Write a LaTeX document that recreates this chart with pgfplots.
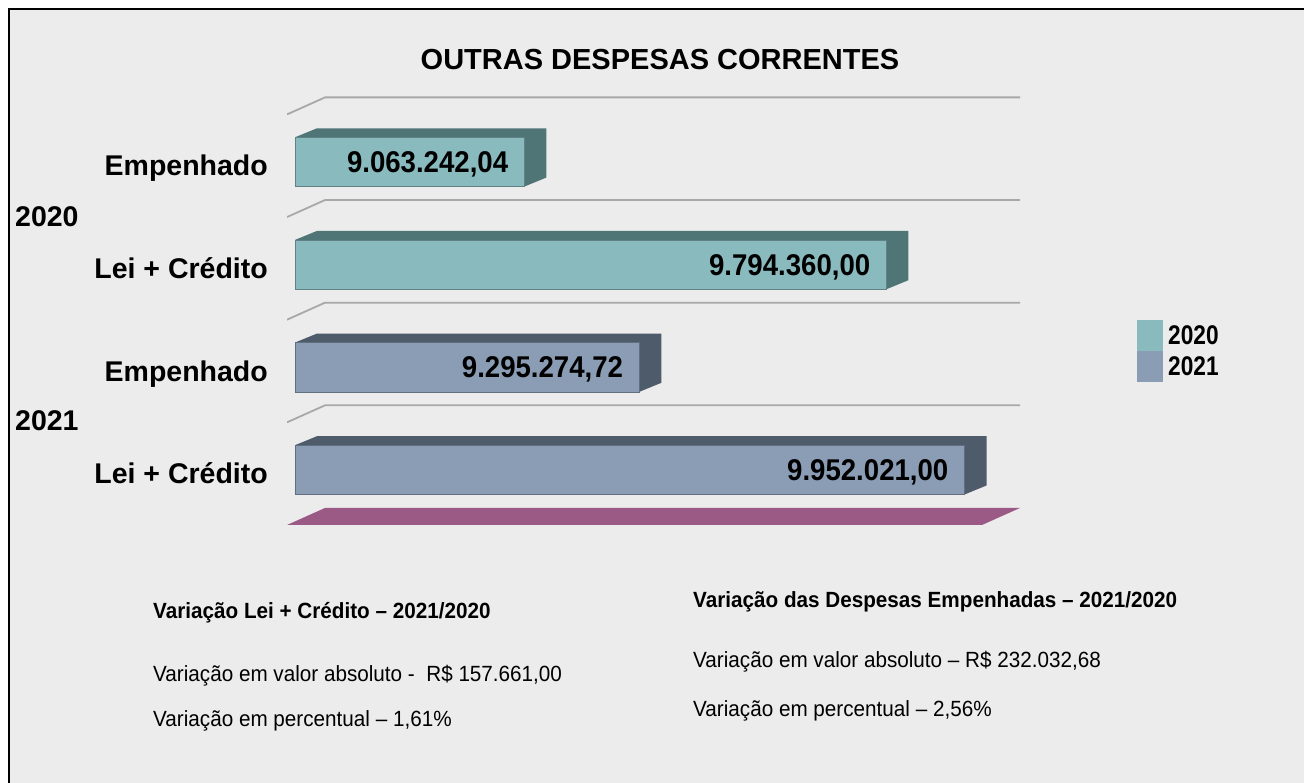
\documentclass[border=0pt]{standalone}
\usepackage{fontspec}
\setmainfont{Liberation Sans}
\newfontfamily\narrowfont[FakeStretch=0.84]{Liberation Sans}
\newfontfamily\valuefont[FakeStretch=0.92]{Liberation Sans}
\newfontfamily\bottomfont[FakeStretch=0.94]{Liberation Sans}
\usepackage{pgfplots}
\pgfplotsset{compat=1.18}

\definecolor{bgcol}{RGB}{236,236,236}
\definecolor{gridcol}{RGB}{168,168,168}
\definecolor{floorcol}{RGB}{155,89,134}
\definecolor{front20}{RGB}{137,186,190}
\definecolor{dark20}{RGB}{80,117,119}
\definecolor{front21}{RGB}{138,157,180}
\definecolor{dark21}{RGB}{78,91,106}

\begin{document}
\begin{tikzpicture}
\path[use as bounding box] (0,0) rectangle (1304pt,783pt);
\fill[white] (0,0) rectangle (1304pt,783pt);
\fill[bgcol] (9pt,0) rectangle (1304pt,774pt);
\draw[black, line width=2.5pt] (9pt,0) -- (9pt,774pt) -- (1304pt,774pt);

\begin{axis}[
    at={(287pt,258pt)}, anchor=south west,
    scale only axis, width=733pt, height=428pt,
    xmin=8584000, xmax=10064000,
    ymin=-0.5, ymax=3.67,
    axis line style={draw=none},
    major tick length=0pt,
    xtick=\empty,
    ytick={0,1,2,3},
    yticklabels={Lei + Crédito, Empenhado, Lei + Crédito, Empenhado},
    yticklabel style={font=\bfseries\fontsize{28.5pt}{30pt}\selectfont,
        anchor=base east, inner sep=0pt, xshift=-19pt, yshift=-10pt},
    legend image code/.code={\fill (0pt,-15.5pt) rectangle (26pt,15.5pt);},
    legend style={at={(1.1596,0.479)}, anchor=north west,
        draw=none, fill=none, inner sep=0pt,
        nodes={inner sep=0pt},
        /tikz/row sep=0pt, /tikz/column sep=5pt,
        font=\narrowfont\bfseries\fontsize{27pt}{28pt}\selectfont},
    legend cell align=left,
]
% back gridlines with the left wall segment
\addplot[gridcol, line width=1.8pt, forget plot] coordinates {(8584000,3.5) (8660726,3.666) (10064000,3.666)};
\addplot[gridcol, line width=1.8pt, forget plot] coordinates {(8584000,2.5) (8660726,2.666) (10064000,2.666)};
\addplot[gridcol, line width=1.8pt, forget plot] coordinates {(8584000,1.5) (8660726,1.666) (10064000,1.666)};
\addplot[gridcol, line width=1.8pt, forget plot] coordinates {(8584000,0.5) (8660726,0.666) (10064000,0.666)};
% floor
\addplot[fill=floorcol, draw=none, forget plot] coordinates {(8584000,-0.5) (9987289,-0.5) (10064000,-0.334) (8660726,-0.334)} -- cycle;

% 2020 Empenhado 9.063.242,04
\addplot[fill=dark20, draw=none, forget plot] coordinates {(8600000,3.277) (8644420,3.365) (9107662.04,3.365) (9107662.04,2.885) (9063242.04,2.797) (9063242.04,3.277)} -- cycle;
\addplot[fill=front20, draw=front20!70!black, line width=0.6pt, forget plot] coordinates {(8600000,2.797) (9063242.04,2.797) (9063242.04,3.277) (8600000,3.277)} -- cycle;
% 2020 Lei + Credito 9.794.360,00
\addplot[fill=dark20, draw=none, forget plot] coordinates {(8600000,2.277) (8644420,2.365) (9838780,2.365) (9838780,1.885) (9794360,1.797) (9794360,2.277)} -- cycle;
\addplot[fill=front20, draw=front20!70!black, line width=0.6pt, forget plot] coordinates {(8600000,1.797) (9794360,1.797) (9794360,2.277) (8600000,2.277)} -- cycle;
% 2021 Empenhado 9.295.274,72
\addplot[fill=dark21, draw=none, forget plot] coordinates {(8600000,1.277) (8644420,1.365) (9339694.72,1.365) (9339694.72,0.885) (9295274.72,0.797) (9295274.72,1.277)} -- cycle;
\addplot[fill=front21, draw=front21!70!black, line width=0.6pt, forget plot] coordinates {(8600000,0.797) (9295274.72,0.797) (9295274.72,1.277) (8600000,1.277)} -- cycle;
% 2021 Lei + Credito 9.952.021,00
\addplot[fill=dark21, draw=none, forget plot] coordinates {(8600000,0.277) (8644420,0.365) (9996441,0.365) (9996441,-0.115) (9952021,-0.203) (9952021,0.277)} -- cycle;
\addplot[fill=front21, draw=front21!70!black, line width=0.6pt, forget plot] coordinates {(8600000,-0.203) (9952021,-0.203) (9952021,0.277) (8600000,0.277)} -- cycle;

% value labels
\addplot[draw=none, forget plot, nodes near coords, point meta=explicit symbolic,
    nodes near coords style={anchor=base east, inner sep=0pt, xshift=-16pt, yshift=-10.5pt,
        text=black, font=\valuefont\bfseries\fontsize{30pt}{32pt}\selectfont}]
    coordinates {(9063242.04,3.037) [9.063.242,04] (9794360,2.037) [9.794.360,00]
                 (9295274.72,1.037) [9.295.274,72] (9952021,0.037) [9.952.021,00]};

\addlegendimage{fill=front20, draw=none}
\addlegendentry{2020}
\addlegendimage{fill=front21, draw=none}
\addlegendentry{2021}
\end{axis}

\node[anchor=base, font=\bfseries\fontsize{29pt}{30pt}\selectfont] at (660pt,713pt) {OUTRAS DESPESAS CORRENTES};
\node[anchor=base west, inner sep=0pt, font=\bfseries\fontsize{28.5pt}{30pt}\selectfont] at (15pt,556pt) {2020};
\node[anchor=base west, inner sep=0pt, font=\bfseries\fontsize{28.5pt}{30pt}\selectfont] at (15pt,352pt) {2021};

\node[anchor=base west, inner sep=0pt, font=\bottomfont\bfseries\fontsize{22pt}{24pt}\selectfont] at (153pt,164pt) {Variação Lei + Crédito – 2021/2020};
\node[anchor=base west, inner sep=0pt, font=\bottomfont\fontsize{22pt}{24pt}\selectfont] at (153pt,101pt) {Variação em valor absoluto -\ \ R\$ 157.661,00};
\node[anchor=base west, inner sep=0pt, font=\bottomfont\fontsize{22pt}{24pt}\selectfont] at (153pt,56pt) {Variação em percentual – 1,61\%};

\node[anchor=base west, inner sep=0pt, font=\bottomfont\bfseries\fontsize{22pt}{24pt}\selectfont] at (693pt,175pt) {Variação das Despesas Empenhadas – 2021/2020};
\node[anchor=base west, inner sep=0pt, font=\bottomfont\fontsize{22pt}{24pt}\selectfont] at (693pt,115pt) {Variação em valor absoluto – R\$ 232.032,68};
\node[anchor=base west, inner sep=0pt, font=\bottomfont\fontsize{22pt}{24pt}\selectfont] at (693pt,66pt) {Variação em percentual – 2,56\%};
\end{tikzpicture}
\end{document}
